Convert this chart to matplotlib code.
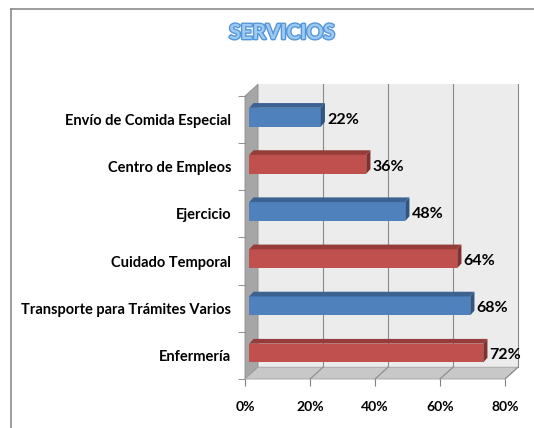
import matplotlib
matplotlib.use("Agg")
import matplotlib.pyplot as plt
import matplotlib.patheffects as pe
from matplotlib.patches import Polygon, Rectangle
import numpy as np

plt.rcParams['font.family'] = ['Lato', 'DejaVu Sans']

# data (bottom to top)
categorias = ['Enfermería', 'Transporte para Trámites Varios', 'Cuidado Temporal',
              'Ejercicio', 'Centro de Empleos', 'Envío de Comida Especial']
valores = [72, 68, 64, 48, 36, 22]
xticks = [0, 20, 40, 60, 80]
titulo = 'SERVICIOS'

azul = ('#4f81bd', '#3b6291', '#2f5580')
rojo = ('#c0504d', '#963c3a', '#7f3230')
colores = [rojo if i % 2 == 0 else azul for i in range(len(valores))]

fig = plt.figure(figsize=(5.34, 4.28), dpi=100)
ax = fig.add_axes([245/534, 49/428, 260/534, 283/428])
ax.set_xlim(0, 80)
ax.set_ylim(-0.5, 5.5)

# depth offsets of the 3d box (data units)
dx, dy = 4.0, 0.25
y0, y1 = -0.5, 5.5

# back wall, side wall and floor
ax.add_patch(Rectangle((dx, y0 + dy), 80, 6, facecolor='#ececec', edgecolor='none',
                       clip_on=False, zorder=0))
ax.add_patch(Polygon([(0, y0), (dx, y0 + dy), (dx, y1 + dy), (0, y1)], closed=True,
                     facecolor='#a6a6a6', edgecolor='#8c8c8c', lw=0.6, clip_on=False, zorder=1))
ax.add_patch(Polygon([(0, y0), (80, y0), (80 + dx, y0 + dy), (dx, y0 + dy)], closed=True,
                     facecolor='#c8c8c8', edgecolor='#a0a0a0', lw=0.6, clip_on=False, zorder=1))
for t in xticks[1:]:
    ax.plot([t + dx, t + dx], [y0 + dy, y1 + dy], color='#8a8a8a', lw=0.8, clip_on=False, zorder=0.5)
    ax.plot([t, t + dx], [y0, y0 + dy], color='#8a8a8a', lw=0.8, clip_on=False, zorder=1.2)

# bars with faux 3d faces
off = 1.3
h = 0.4
bdx, bdy = 1.3, 0.1
ypos = np.arange(len(valores))
for y, v, c in zip(ypos, valores, colores):
    yc = y + 0.05
    ax.barh(yc, v, left=off, height=h, color=c[0], edgecolor='none', zorder=3)
    xr = off + v
    ax.add_patch(Polygon([(off, yc + h/2), (xr, yc + h/2), (xr + bdx, yc + h/2 + bdy),
                          (off + bdx, yc + h/2 + bdy)], closed=True, facecolor=c[1],
                         edgecolor='none', zorder=3))
    ax.add_patch(Polygon([(xr, yc - h/2), (xr + bdx, yc - h/2 + bdy), (xr + bdx, yc + h/2 + bdy),
                          (xr, yc + h/2)], closed=True, facecolor=c[2], edgecolor='none', zorder=3))
    ax.text(xr + bdx + 0.6, y, f'{v}%', va='center', ha='left', fontsize=11.5,
            fontweight='bold', color='black', zorder=4)

# axes styling
for s in ax.spines.values():
    s.set_visible(False)
ax.set_yticks(ypos)
ax.set_yticklabels(categorias, fontsize=10.5, fontweight='bold')
ax.set_yticks(np.arange(-0.5, 6, 1), minor=True)
ax.tick_params(axis='y', which='major', length=0, pad=10)
ax.tick_params(axis='y', which='minor', length=5, color='#808080')
ax.set_xticks(xticks)
ax.set_xticklabels([f'{t}%' for t in xticks], fontsize=10, fontweight='bold')
ax.tick_params(axis='x', length=5, color='#808080', pad=11)
ax.patch.set_visible(False)

# title
fig.text(282/534, 1 - 33/428, titulo, ha='center', va='center', fontsize=15,
         fontweight='bold', color='#9ccaf2',
         path_effects=[pe.withStroke(linewidth=2.0, foreground='#5596d8')])

# chart frame (left and top edges)
fig.add_artist(plt.Line2D([11/534, 11/534], [0, 1 - 9/428], color='#8c8c8c', lw=1.2))
fig.add_artist(plt.Line2D([11/534, 1], [1 - 9/428, 1 - 9/428], color='#8c8c8c', lw=1.2))

fig.savefig('out.png', dpi=100)
